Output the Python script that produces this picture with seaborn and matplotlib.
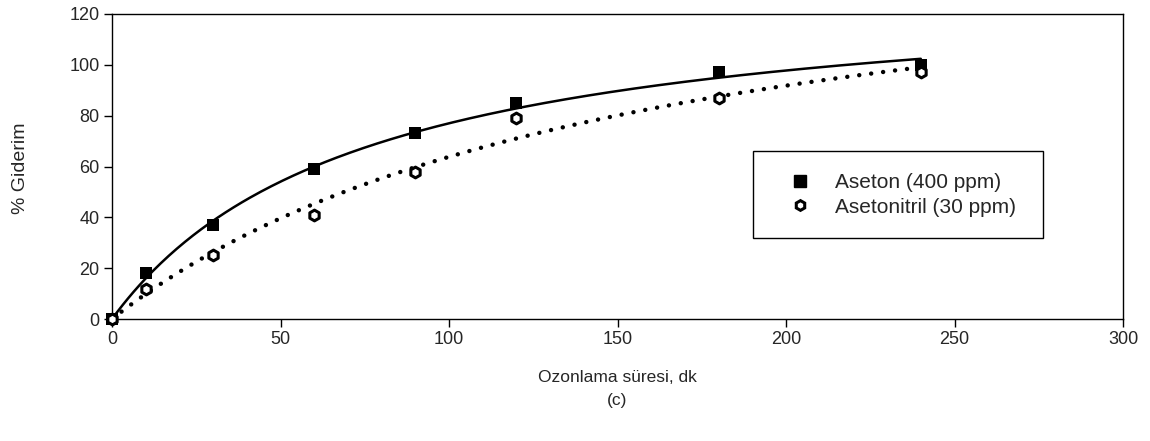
import matplotlib
matplotlib.use("Agg")
import matplotlib.pyplot as plt
import seaborn as sns
import numpy as np
import pandas as pd
from matplotlib.lines import Line2D
from matplotlib.patches import Rectangle

# Ozonation time (min) and removal (%)
time_min = [0, 10, 30, 60, 90, 120, 180, 240]
aseton = [0, 18, 37, 59, 73, 85, 97, 100]
asetonitril = [0, 12, 25, 41, 58, 79, 87, 97]

labels = ["Aseton (400 ppm)", "Asetonitril (30 ppm)"]
x_ticks = [0, 50, 100, 150, 200, 250, 300]
y_ticks = [0, 20, 40, 60, 80, 100, 120]


def saturation_fit(x, y):
    """Least-squares fit of y = a*x/(b+x); returns a dense trend frame."""
    x = np.asarray(x, float)
    y = np.asarray(y, float)
    best = None
    for b in np.linspace(1, 600, 6000):
        g = x / (b + x)
        a = (g @ y) / (g @ g)
        err = np.sum((y - a * g) ** 2)
        if best is None or err < best[0]:
            best = (err, a, b)
    _, a, b = best
    xs = np.linspace(x.min(), x.max(), 300)
    return pd.DataFrame({"t": xs, "r": a * xs / (b + xs)})


df_a = pd.DataFrame({"t": time_min, "r": aseton})
df_n = pd.DataFrame({"t": time_min, "r": asetonitril})
fit_a = saturation_fit(time_min, aseton)
fit_n = saturation_fit(time_min, asetonitril)

sns.set_style("white")
plt.rcParams["font.family"] = ["Liberation Sans", "DejaVu Sans"]

W, H = 1150, 441
fig = plt.figure(figsize=(W / 100, H / 100), dpi=100)
ax = fig.add_axes([112 / W, 1 - 319 / H, (1123 - 112) / W, (319 - 14) / H])

# trend lines
sns.lineplot(data=fit_a, x="t", y="r", color="black", lw=1.8, ax=ax, zorder=3)
sns.lineplot(data=fit_n, x="t", y="r", color="black", lw=3.2, ax=ax, zorder=3,
             linestyle=(0, (0.01, 2.7)), dash_capstyle="round")

# measured points
sns.scatterplot(data=df_a, x="t", y="r", marker="s", s=70, color="black",
                edgecolor="black", linewidth=0, ax=ax, zorder=5, clip_on=False)
sns.scatterplot(data=df_n, x="t", y="r", marker="h", s=60, facecolor="white",
                edgecolor="black", linewidth=2.2, ax=ax, zorder=6, clip_on=False)

ax.set_xlim(0, 300)
ax.set_ylim(0, 120)
ax.set_xticks(x_ticks)
ax.set_yticks(y_ticks)
ax.tick_params(axis="both", direction="out", length=6, width=1, color="black",
               labelsize=13, bottom=True, left=True, pad=3)
for sp in ax.spines.values():
    sp.set_color("black")
    sp.set_linewidth(1)
ax.set_xlabel("")
ax.set_ylabel("")

fig.text(21 / W, 1 - 168 / H, "% Giderim", rotation=90, ha="center", va="center", fontsize=14)
fig.text(617 / W, 1 - 377 / H, "Ozonlama süresi, dk", ha="center", va="center", fontsize=12.5)
fig.text(617 / W, 1 - 400 / H, "(c)", ha="center", va="center", fontsize=12.5)

# legend box
box_x0, box_x1, box_y0, box_y1 = 753, 1043, 151, 238
ax.add_patch(Rectangle(((box_x0 - 112) / 1011, (319 - box_y1) / 305),
                       (box_x1 - box_x0) / 1011, (box_y1 - box_y0) / 305,
                       transform=ax.transAxes, facecolor="white", edgecolor="black",
                       lw=1, zorder=2))

handles = [
    Line2D([], [], marker="s", color="black", linestyle="none", markersize=8),
    Line2D([], [], marker="h", markerfacecolor="white", markeredgecolor="black",
           markeredgewidth=2.2, linestyle="none", markersize=7),
]
leg = ax.legend(handles, labels, loc="center left",
                bbox_to_anchor=((790 - 112) / 1011, (319 - 195) / 305),
                fontsize=15, frameon=False, borderpad=0, borderaxespad=0,
                handlelength=1.0, handletextpad=1.15, labelspacing=0.25)

fig.savefig("out.png", dpi=100)
